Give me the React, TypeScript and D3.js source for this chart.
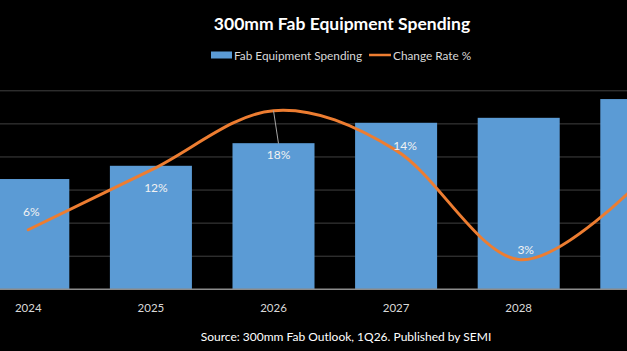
import React from 'react';
import * as d3 from 'd3';

// chart data (spending in $B, change rate in %)
const years = ['2024', '2025', '2026', '2027', '2028', '2029'];
const spending = [100, 112, 132.5, 151, 155.5, 172.5];
const changeRate = [6, 12, 18, 14, 3, 11];
const rateLabels = ['6%', '12%', '18%', '14%', '3%', '11%'];
const gridTicks = [0, 30, 60, 90, 120, 150, 180];

// label nudges relative to each line point (layout only)
const labelOffsets: Array<[number, number]> = [
  [3, -18], [5, 17], [5, 44], [9, -5], [7, -10], [6, -12],
];

const W = 627;
const H = 351;
const FONT = 'Lato, "Open Sans", sans-serif';

export default function App() {
  const baseY = 289.3;
  const topY = 90.8;

  const x = d3.scaleBand<string>()
    .domain(years)
    .range([-33, 702.6])
    .paddingInner(0.331)
    .paddingOuter(0.1655);

  const y = d3.scaleLinear().domain([0, 180]).range([baseY, topY]);
  const y2 = d3.scaleLinear().domain([0, 20]).range([baseY, topY]);

  const cx = (d: string) => (x(d) ?? 0) + x.bandwidth() / 2;
  // the last category sits past the right edge of the frame, like the cropped original
  const visible = (d: string) => cx(d) < W;

  const line = d3.line<number>()
    .x((_, i) => cx(years[i]))
    .y((d) => y2(d))
    .curve(d3.curveCatmullRom.alpha(0));

  const leaderIdx = 2;
  const lx = cx(years[leaderIdx]);
  const ly = y2(changeRate[leaderIdx]);

  return (
    <div style={{ position: 'absolute', left: 0, top: 0 }}>
      <svg width={W} height={H} style={{ display: 'block', background: '#000' }}>
        <rect width={W} height={H} fill="#000" />

        <text x={342} y={23} textAnchor="middle" dominantBaseline="central"
          fill="#ffffff" fontFamily={FONT} fontWeight="bold" fontSize={17.5}>
          300mm Fab Equipment Spending
        </text>

        {/* legend */}
        <g fontFamily={FONT} fontSize={11.8} fill="#d9d9d9">
          <rect x={211} y={51.5} width={21} height={7} fill="#5b9bd5" />
          <text x={234} y={55} dominantBaseline="central">Fab Equipment Spending</text>
          <line x1={369} x2={391} y1={55} y2={55} stroke="#ed7d31" strokeWidth={2.5} />
          <text x={393} y={55} dominantBaseline="central">Change Rate %</text>
        </g>

        {/* gridlines */}
        {gridTicks.slice(1).map((t) => (
          <line key={t} x1={0} x2={W} y1={y(t)} y2={y(t)} stroke="#404040" strokeWidth={1} />
        ))}

        {/* bars */}
        {years.map((yr, i) => (
          <rect key={yr} x={x(yr)} y={y(spending[i])} width={x.bandwidth()}
            height={baseY - y(spending[i])} fill="#5b9bd5" />
        ))}

        <line x1={0} x2={W} y1={baseY} y2={baseY} stroke="#8c8c8c" strokeWidth={1.5} />

        {/* change rate line */}
        <path d={line(changeRate) ?? ''} fill="none" stroke="#ed7d31" strokeWidth={3}
          strokeLinecap="round" />

        {/* leader line for the 2026 label */}
        <line x1={lx} y1={ly} x2={lx + labelOffsets[leaderIdx][0]}
          y2={ly + labelOffsets[leaderIdx][1] - 11} stroke="#a6a6a6" strokeWidth={1} />

        {/* data labels */}
        {changeRate.map((v, i) => visible(years[i]) && (
          <text key={years[i]} x={cx(years[i]) + labelOffsets[i][0]}
            y={y2(v) + labelOffsets[i][1]} textAnchor="middle" dominantBaseline="central"
            fill="#f2f2f2" fontFamily={FONT} fontSize={12}>
            {rateLabels[i]}
          </text>
        ))}

        {/* category labels */}
        {years.filter(visible).map((yr) => (
          <text key={yr} x={cx(yr)} y={307} textAnchor="middle" dominantBaseline="central"
            fill="#d9d9d9" fontFamily={FONT} fontSize={11.5}>
            {yr}
          </text>
        ))}

        <text x={346} y={336} textAnchor="middle" dominantBaseline="central"
          fill="#ffffff" fontFamily={FONT} fontSize={12}>
          Source: 300mm Fab Outlook, 1Q26. Published by SEMI
        </text>
      </svg>
    </div>
  );
}
